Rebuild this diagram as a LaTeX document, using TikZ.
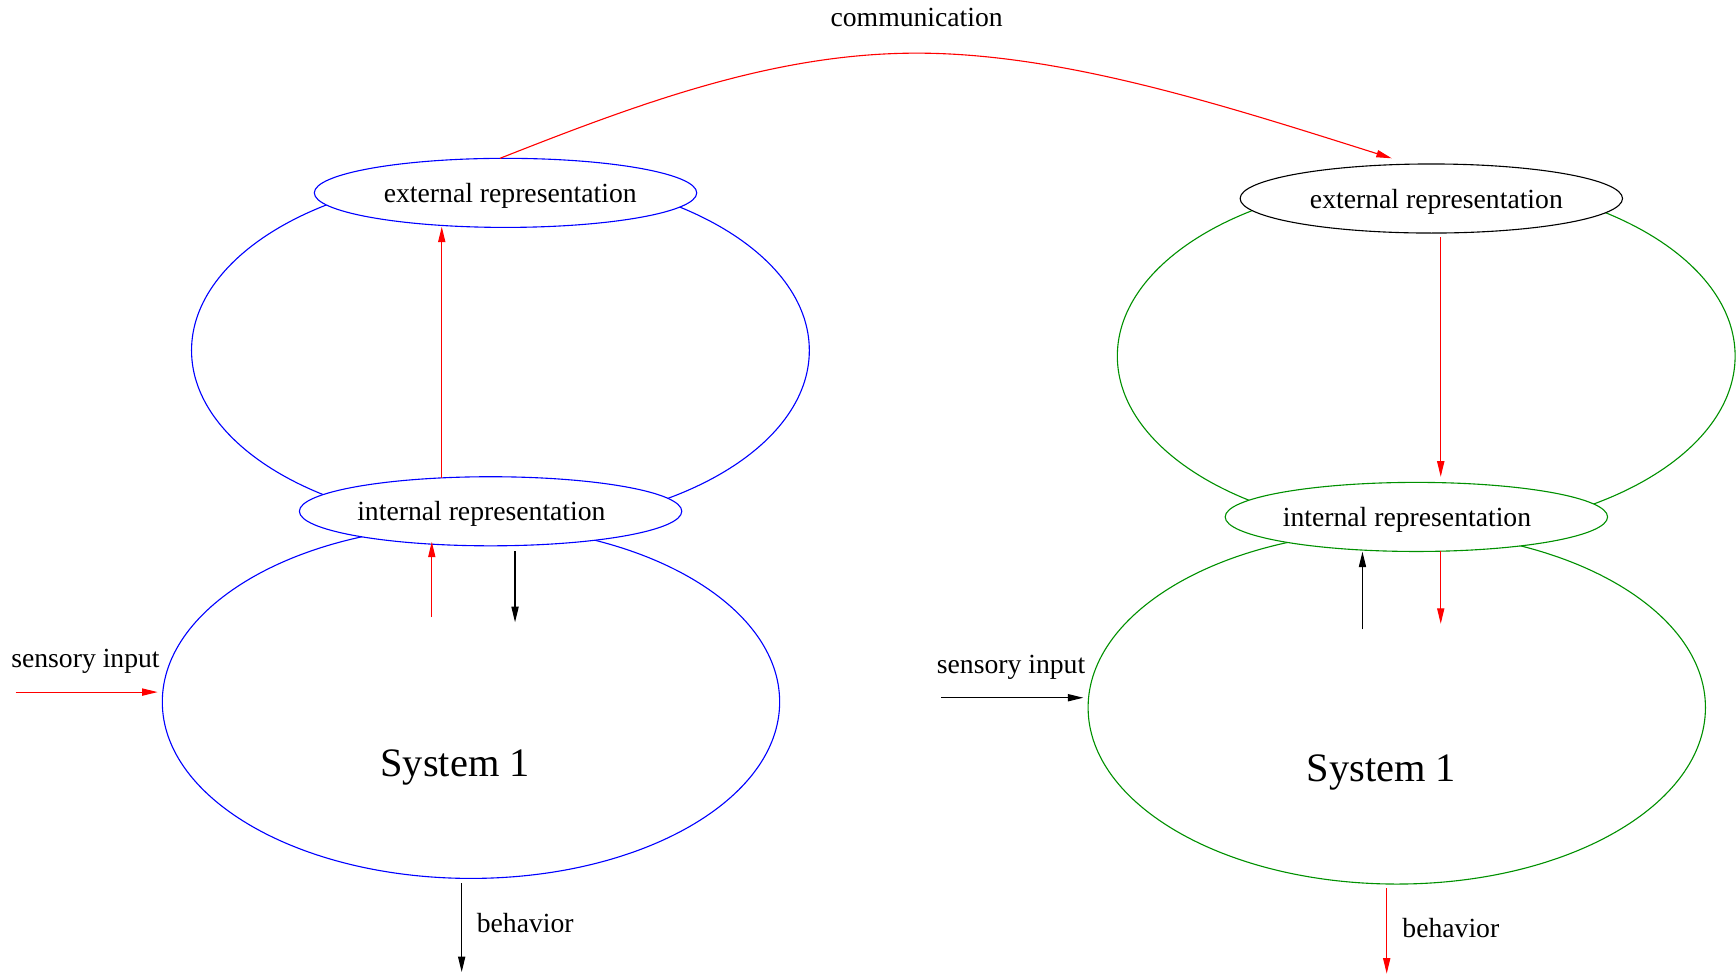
\documentclass[tikz,border=0pt]{standalone}
\usepackage{fontspec}
\setmainfont{Liberation Serif}
\usetikzlibrary{shapes.geometric,arrows.meta}
\definecolor{figgreen}{RGB}{0,144,0}
\begin{document}
\begin{tikzpicture}[x=1pt,y=-1pt,
  lw/.style={line width=1pt},
  bigell/.style={ellipse,lw,inner sep=0pt,minimum width=558pt,minimum height=318pt},
  sysell/.style={ellipse,lw,inner sep=0pt,minimum width=557.6pt,minimum height=318.8pt},
  repell/.style={ellipse,lw,fill=white,inner sep=0pt,minimum width=345.4pt,minimum height=62.4pt},
  lbl/.style={anchor=base west,inner sep=0pt,font=\fontsize{25}{30}\selectfont},
  syslbl/.style={anchor=base west,inner sep=0pt,font=\fontsize{36.5}{44}\selectfont},
  arr/.style={lw,-{Triangle[length=14pt,width=6.5pt]}},
]
\useasboundingbox (0,0) rectangle (1568,880);

% ---------- left cluster (blue) ----------
\node[bigell,draw=blue] (bigL) at (452,316.5) {};
\node[sysell,draw=blue] (sysL) at (425.4,634) {};
\node[repell,draw=blue] (extL) at (456.6,174.2) {};
\node[repell,draw=blue] (intL) at (443.1,461.8) {};

% ---------- right cluster (green) ----------
\node[bigell,draw=figgreen] (bigR) at (1288.2,321.6) {};
\node[sysell,draw=figgreen] (sysR) at (1261.6,639.1) {};
\node[repell,draw=black] (extR) at (1292.8,179.3) {};
\node[repell,draw=figgreen] (intR) at (1279.3,466.9) {};

% ---------- texts ----------
\node[lbl] (tcomm) at (750,24.1) {communication};
\node[lbl] (textL) at (346.5,183.1) {external representation};
\node[lbl] (tintL) at (322.5,470.3) {internal representation};
\node[syslbl] (tsysL) at (343.5,701.6) {System 1};
\node[lbl] (tsenL) at (10,603.1) {sensory input};
\node[lbl] (tbehL) at (430.5,842.5) {behavior};

\node[lbl] (textR) at (1183,188.2) {external representation};
\node[lbl] (tintR) at (1158.5,475.1) {internal representation};
\node[syslbl] (tsysR) at (1180,706.1) {System 1};
\node[lbl] (tsenR) at (846,608.2) {sensory input};
\node[lbl] (tbehR) at (1266.5,847) {behavior};

% ---------- connector end points ----------
\coordinate (cStart) at (451.6,143);
\coordinate (cPeak) at (828,48);
\coordinate (cEnd) at (1257.1,143);

\coordinate (l1a) at (399,431.6);   \coordinate (l1b) at (399,204.8);
\coordinate (l2a) at (390,557.3);   \coordinate (l2b) at (390,489.3);
\coordinate (l3a) at (465.2,497.7); \coordinate (l3b) at (465.2,562);
\coordinate (lsa) at (14,625.1);    \coordinate (lsb) at (142.4,625.1);
\coordinate (lba) at (417,797.9);   \coordinate (lbb) at (417,878);

\coordinate (r1a) at (1301.3,214.4); \coordinate (r1b) at (1301.3,430.6);
\coordinate (r2a) at (1230.6,568.5); \coordinate (r2b) at (1230.6,498.3);
\coordinate (r3a) at (1301.3,497.5); \coordinate (r3b) at (1301.3,563.4);
\coordinate (rsa) at (850,630.2);    \coordinate (rsb) at (978.5,630.2);
\coordinate (rba) at (1252.5,802.4); \coordinate (rbb) at (1252.5,879.4);

% ---------- connectors ----------
\draw[arr,red] (cStart) .. controls (580,92.3) and (700,48) .. (cPeak)
               .. controls (960,48) and (1107,95.6) .. (cEnd);

\draw[arr,red] (l1a) -- (l1b);
\draw[arr,red] (l2a) -- (l2b);
\draw[arr,black] (l3a) -- (l3b);
\draw[arr,red] (lsa) -- (lsb);
\draw[arr,black] (lba) -- (lbb);

\draw[arr,red] (r1a) -- (r1b);
\draw[arr,black] (r2a) -- (r2b);
\draw[arr,red] (r3a) -- (r3b);
\draw[arr,black] (rsa) -- (rsb);
\draw[arr,red] (rba) -- (rbb);
\end{tikzpicture}
\end{document}
